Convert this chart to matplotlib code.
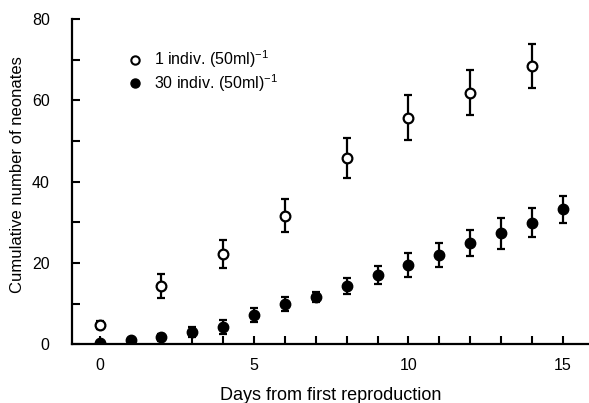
import matplotlib

matplotlib.use("Agg")
import matplotlib.pyplot as plt
import numpy as np

plt.rcParams["font.family"] = ["Liberation Sans", "DejaVu Sans"]
plt.rcParams["mathtext.fontset"] = "custom"
plt.rcParams["mathtext.rm"] = "Liberation Sans"
plt.rcParams["mathtext.it"] = "Liberation Sans"

# 1 individual per 50 ml (open circles)
days_low = [0, 2, 4, 6, 8, 10, 12, 14]
mean_low = [4.7, 14.3, 22.2, 31.6, 45.8, 55.7, 61.9, 68.4]
err_low = [1.0, 3.0, 3.5, 4.0, 5.0, 5.5, 5.5, 5.5]

# 30 individuals per 50 ml (filled circles)
days_high = list(range(0, 16))
mean_high = [0.3, 1.0, 1.7, 3.0, 4.3, 7.1, 9.8, 11.6, 14.3, 17.0, 19.4, 22.0, 24.9, 27.3, 29.9, 33.2]
err_high = [0.5, 0.6, 0.8, 1.3, 1.7, 1.7, 1.7, 1.3, 2.0, 2.3, 3.0, 3.0, 3.2, 3.8, 3.5, 3.3]

label_low = "1 indiv. (50ml)$^{-1}$"
label_high = "30 indiv. (50ml)$^{-1}$"

fig = plt.figure(figsize=(5.89, 4.03), dpi=100)
ax = fig.add_axes([0.122, 0.146, 0.878, 0.807])

ax.errorbar(days_high, mean_high, yerr=err_high, fmt="o", color="black",
            markersize=7.5, elinewidth=1.6, capsize=3, capthick=1.6, zorder=3)
ax.errorbar(days_low, mean_low, yerr=err_low, fmt="o", color="black",
            markerfacecolor="white", markeredgewidth=1.6, markersize=7,
            elinewidth=1.6, capsize=3, capthick=1.6, zorder=3)

ax.set_xlim(-0.9, 15.85)
ax.set_ylim(0, 80)
ax.set_xticks([0, 5, 10, 15])
ax.set_xticks(np.arange(0, 16), minor=True)
ax.set_yticks([0, 20, 40, 60, 80])
ax.set_yticks([10, 30, 50, 70], minor=True)

for s in ["top", "right"]:
    ax.spines[s].set_visible(False)
for s in ["left", "bottom"]:
    ax.spines[s].set_linewidth(1.6)

ax.tick_params(axis="both", which="both", direction="in", width=1.5, labelsize=11.5)
ax.tick_params(axis="both", which="major", length=6)
ax.tick_params(axis="both", which="minor", length=6)
ax.tick_params(axis="y", which="major", pad=16)
ax.tick_params(axis="x", which="major", pad=10)

ax.set_xlabel("Days from first reproduction", fontsize=13, labelpad=10)
ax.set_ylabel("Cumulative number of neonates", fontsize=12)
ax.yaxis.set_label_coords(-0.09, 0.52)

# legend drawn with markers + text
ax.plot([1.13], [70], "o", color="black",
        markerfacecolor="white", markeredgewidth=1.5, markersize=6, clip_on=False)
ax.text(1.75, 70, label_low, fontsize=11.5, va="center", ha="left")
ax.plot([1.13], [64.3], "o", color="black", markersize=6.5, clip_on=False)
ax.text(1.75, 64.3, label_high, fontsize=11.5, va="center", ha="left")

fig.savefig("out.png", dpi=100)
